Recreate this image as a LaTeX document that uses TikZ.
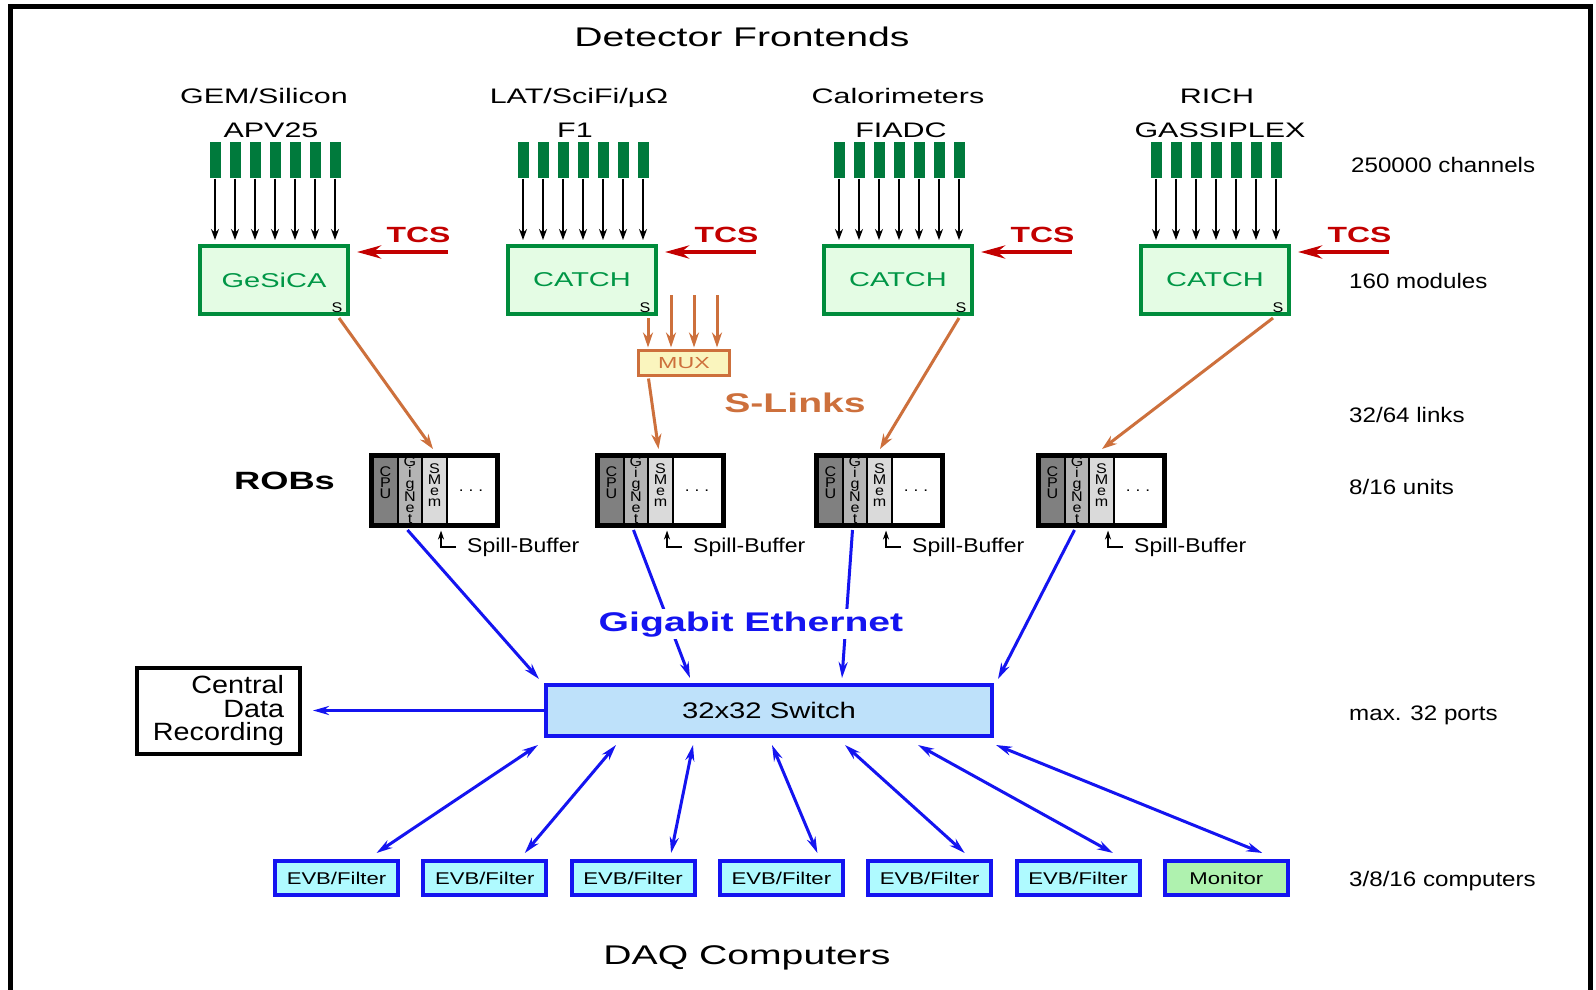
\documentclass[tikz,border=0pt]{standalone}
\usepackage{fontspec}
\setmainfont{Liberation Sans}
\newfontfamily\fA{Liberation Sans}[FakeStretch=1.15]
\newfontfamily\fB{Liberation Sans}[FakeStretch=1.3]
\newfontfamily\fC{Liberation Sans}[FakeStretch=1.45]
\usetikzlibrary{arrows.meta,calc}
\newcommand\myfs[2]{\fontsize{#1}{#2}\selectfont}
\definecolor{chipg}{RGB}{0,122,60}
\definecolor{boxg}{RGB}{0,140,60}
\definecolor{boxfill}{RGB}{228,252,228}
\definecolor{boxtext}{RGB}{0,150,70}
\definecolor{orng}{RGB}{205,112,60}
\definecolor{muxfill}{RGB}{250,245,190}
\definecolor{tcsred}{RGB}{195,0,0}
\definecolor{bluel}{RGB}{20,20,240}
\definecolor{swfill}{RGB}{190,225,250}
\definecolor{evbfill}{RGB}{175,250,255}
\definecolor{monfill}{RGB}{175,242,175}
\definecolor{cpug}{RGB}{128,128,128}
\definecolor{gng}{RGB}{180,180,180}
\definecolor{smg}{RGB}{218,218,218}

\tikzset{
  chip/.style={fill=chipg, minimum width=11pt, minimum height=36pt, inner sep=0pt},
  fe/.style={draw=boxg, line width=4pt, fill=boxfill, minimum width=148pt, minimum height=68pt, inner sep=0pt, text=boxtext, font=\fC\myfs{20}{24}},
  lab/.style={font=\fC\myfs{21}{25}, inner sep=0pt, anchor=base},
  rlab/.style={font=\fA\myfs{21}{25}, inner sep=0pt, anchor=base west},
  tcs/.style={font=\fC\bfseries\myfs{22}{26}, text=tcsred, inner sep=0pt, anchor=base},
  tcsarr/.style={draw=tcsred, line width=4.5pt, -{Stealth[length=24pt,width=13pt]}, shorten >=7pt},
  blk/.style={line width=1.6pt, -{Stealth[length=11pt,width=8pt]}, shorten >=4pt},
  org/.style={draw=orng, line width=3pt, -{Stealth[length=15pt,width=10pt]}},
  blu/.style={draw=bluel, line width=3pt, -{Stealth[length=16pt,width=9pt]}},
  bblu/.style={draw=bluel, line width=3pt, {Stealth[length=16pt,width=9pt]}-{Stealth[length=16pt,width=9pt]}},
  rob/.style={draw=black, line width=5pt, minimum width=126pt, minimum height=70pt, inner sep=0pt},
  vlet/.style={font=\fA\myfs{14}{11}, align=center, inner sep=0pt},
  spl/.style={font=\fA\myfs{20}{24}, inner sep=0pt, anchor=base west},
  evb/.style={draw=bluel, line width=4pt, fill=evbfill, minimum width=123pt, minimum height=34pt, inner sep=0pt, font=\fB\myfs{17}{19}},
  muxbox/.style={draw=orng, line width=3pt, fill=muxfill, minimum width=91pt, minimum height=25pt, inner sep=0pt, text=orng, font=\fC\myfs{16}{18}},
  swbox/.style={draw=bluel, line width=4pt, fill=swfill, minimum width=446pt, minimum height=51pt, inner sep=0pt, font=\fB\myfs{22.5}{26}},
  cdrbox/.style={draw=black, line width=4pt, minimum width=163pt, minimum height=86pt, inner sep=0pt, align=right, font=\fA\myfs{25}{23.5}}
}

% #1 id, #2 box centre x, #3 box text, #4 label 1, #5 label 2, #6 x of label 1, #7 x of label 2
\newcommand\fegroup[7]{%
  \node[lab] (la#1) at (#6,103) {#4};
  \node[lab] (lb#1) at (#7,137) {#5};
  \node[fe] (fe#1) at (#2,280) {#3};
  \node[font=\fA\myfs{14}{16}, inner sep=0pt, anchor=base] (s#1) at (#2+63,312) {S};
  \foreach \i in {0,...,6} {
    \node[chip] (c#1\i) at (#2-59+20*\i,160.3) {};
    \draw[blk] (c#1\i.south) -- (c#1\i.south |- fe#1.north);
  }
  \node[tcs] (tcs#1) at (#2+144.5,242) {TCS};
  \coordinate (ts#1) at (#2+174,252);
  \draw[tcsarr] (ts#1) -- (ts#1 -| fe#1.east);
}

% #1 id, #2 left x
\newcommand\robunit[2]{%
  \begin{scope}[shift={(#2,0)}]
    \fill[cpug] (2.5,455.5) rectangle (29,525.5);
    \fill[gng] (29,455.5) rectangle (53,525.5);
    \fill[smg] (53,455.5) rectangle (78,525.5);
    \draw[line width=1.2pt] (29,455.5) -- (29,525.5) (53,455.5) -- (53,525.5) (78,455.5) -- (78,525.5);
    \node[rob] (rob#1) at (65.5,490.5) {};
    \node[vlet] (cpu#1) at (16.5,483) {C\\P\\U};
    \node[vlet] (gig#1) at (41,490) {G\\i\\g\\N\\e\\t};
    \node[vlet] (smem#1) at (65.5,485) {S\\M\\e\\m};
    \node[font=\fA\myfs{15}{18}, inner sep=0pt, anchor=base] (dots#1) at (102,491) {.\,\,.\,\,.};
    \node[spl] (spill#1) at (98,552) {Spill-Buffer};
    \coordinate (sb#1) at (87,547);
    \coordinate (sc#1) at (72,547);
    \draw[line width=1.3pt, -{Stealth[length=9pt,width=6pt]}, shorten >=2.5pt] (sb#1) -| (rob#1.south -| sc#1);
  \end{scope}
}

\begin{document}
\begin{tikzpicture}[x=1pt,y=-1pt]
\useasboundingbox (0,0) rectangle (1596,990);
\fill[white] (0,0) rectangle (1596,990);
\draw[line width=4.5pt] (10.5,1010) -- (10.5,6.5) -- (1590.5,6.5) -- (1590.5,1010);

\node[font=\fC\myfs{27}{32}, inner sep=0pt, anchor=base] (title) at (742,47) {Detector Frontends};

\fegroup{1}{274}{GeSiCA}{GEM/Silicon}{APV25}{264}{271}
\fegroup{2}{582}{CATCH}{LAT/SciFi/μΩ}{F1}{579}{575}
\fegroup{3}{898}{CATCH}{Calorimeters}{FIADC}{898}{901}
\fegroup{4}{1215}{CATCH}{RICH}{GASSIPLEX}{1217}{1220}

% right column labels
\node[rlab] (r1) at (1351,172) {250000 channels};
\node[rlab] (r2) at (1349,288) {160 modules};
\node[rlab] (r3) at (1349,422) {32/64 links};
\node[rlab] (r4) at (1349,494) {8/16 units};
\node[rlab] (r5) at (1349,720.5) {max. 32 ports};
\node[rlab] (r6) at (1349,886.5) {3/8/16 computers};

% ROBs
\robunit{1}{369}
\robunit{2}{595}
\robunit{3}{814}
\robunit{4}{1036}
\node[font=\fC\bfseries\myfs{25}{30}, inner sep=0pt, anchor=base] (robs) at (284.5,489) {ROBs};

% MUX and S-Links
\node[muxbox] (mux) at (684,363) {MUX};
\coordinate (mA) at ($(fe2.south east)+(-10,2)$);
\coordinate (mB) at (671,295);
\coordinate (mC) at (694,295);
\coordinate (mD) at (717,295);
\foreach \m in {mA,mB,mC,mD} \draw[org, shorten >=1.5pt] (\m) -- (\m |- mux.north);
\draw[org] ($(mux.south west)+(11.5,1.5)$) -- ($(rob2.north)+(-2,-4)$);
\draw[org] ($(fe1.south east)+(-11,2)$) -- ($(rob1.north west)+(64,-4)$);
\draw[org] ($(fe3.south east)+(-15,2)$) -- ($(rob3.north west)+(66,-4)$);
\draw[org] ($(fe4.south east)+(-18,2)$) -- ($(rob4.north west)+(66,-4)$);
\node[font=\fC\bfseries\myfs{27}{32}, text=orng, inner sep=0pt, anchor=base] (slinks) at (795,412) {S-Links};

% switch
\node[swbox] (sw) at (769,710.5) {32x32 Switch};
\draw[blu] ($(rob1.south west)+(38.5,2)$) -- ($(sw.north west)+(-5,-4)$);
\draw[blu] ($(rob2.south west)+(38.5,2)$) -- ($(sw.north west)+(146,-5)$);
\draw[blu] ($(rob3.south west)+(38.5,2)$) -- ($(sw.north west)+(298,-5)$);
\draw[blu] ($(rob4.south west)+(38.5,2)$) -- ($(sw.north east)+(4,-4)$);
\node[font=\fC\bfseries\myfs{27}{32}, text=bluel, fill=white, inner sep=2pt, anchor=base] (gbe) at (751,631) {Gigabit Ethernet};

% central data recording
\node[cdrbox] (cdr) at (218.5,711) {Central\\Data\\Recording};
\draw[blu, shorten >=11pt] (sw.west) -- (sw.west -| cdr.east);

% DAQ computers
\foreach \i in {1,...,6} \node[evb] (evb\i) at ({336.5+148.3*(\i-1)},878) {EVB/Filter};
\node[evb, fill=monfill] (evb7) at ({336.5+148.3*6},878) {Monitor};
\foreach \i/\dx/\ex in {1/-6/40, 2/72/40, 3/149/38, 4/228/36, 5/301/35, 6/374/35, 7/452/36}
  \draw[bblu] ($(sw.south west)+(\dx,7)$) -- ($(evb\i.north)+(\ex,-6)$);

\node[font=\fC\myfs{27}{32}, inner sep=0pt, anchor=base] (daq) at (747,964) {DAQ Computers};
\end{tikzpicture}
\end{document}
